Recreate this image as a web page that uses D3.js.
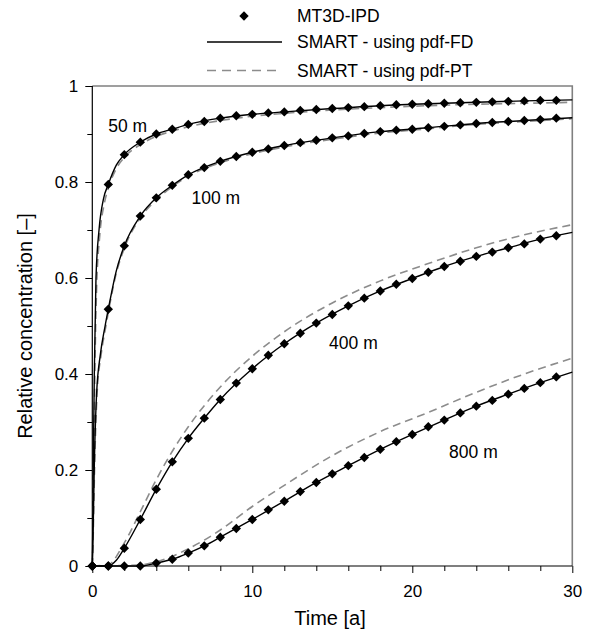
<!DOCTYPE html>
<html>
<head>
<meta charset="utf-8">
<script src="https://cdn.jsdelivr.net/npm/d3@7"></script>
<style>
  html, body { margin: 0; padding: 0; background: #fff; }
  svg { display: block; font-family: Arial, "Liberation Sans", Helvetica, sans-serif; }
</style>
</head>
<body>
<svg id="chart" width="590" height="632"></svg>
<script>
// Simulated breakthrough: MT3D-IPD samples (yearly) and SMART curves at four distances
const sampleTimes = d3.range(0, 30); // 0 … 29 a

const ipd50 = [0, 0.795, 0.857, 0.883, 0.900, 0.910, 0.920, 0.926, 0.933, 0.938,
  0.941, 0.944, 0.946, 0.949, 0.951, 0.953, 0.955, 0.957, 0.959, 0.961,
  0.962, 0.963, 0.964, 0.965, 0.966, 0.967, 0.968, 0.969, 0.970, 0.970];
const ipd100 = [0, 0.535, 0.667, 0.729, 0.767, 0.793, 0.815, 0.830, 0.843, 0.853,
  0.862, 0.869, 0.876, 0.882, 0.887, 0.892, 0.896, 0.901, 0.905, 0.908,
  0.910, 0.913, 0.916, 0.919, 0.922, 0.924, 0.926, 0.928, 0.930, 0.933];
const ipd400 = [0, 0, 0.037, 0.097, 0.160, 0.217, 0.266, 0.308, 0.347, 0.381,
  0.411, 0.439, 0.463, 0.485, 0.506, 0.524, 0.542, 0.558, 0.573, 0.587,
  0.599, 0.612, 0.624, 0.635, 0.645, 0.654, 0.663, 0.671, 0.681, 0.688];
const ipd800 = [0, 0, 0, 0, 0.006, 0.014, 0.027, 0.042, 0.060, 0.078,
  0.097, 0.117, 0.135, 0.155, 0.174, 0.192, 0.209, 0.226, 0.243, 0.259,
  0.274, 0.290, 0.304, 0.319, 0.333, 0.345, 0.358, 0.370, 0.382, 0.394];

// SMART – pdf-FD  ([time, concentration])
const fd50 = [[0,0],[0.03,0.08],[0.06,0.2],[0.125,0.4],[0.23,0.6],[0.42,0.7],[0.7,0.765],
  [1,0.795],[1.5,0.835],[2,0.857],[3,0.883],[4,0.9],[5,0.91],[6,0.92],[8,0.933],[10,0.941],
  [12,0.946],[15,0.953],[18,0.959],[21,0.963],[24,0.966],[27,0.969],[30,0.971]];
const fd100 = [[0,0],[0.05,0.07],[0.12,0.2],[0.27,0.36],[0.5,0.44],[0.8,0.5],[1,0.535],
  [1.5,0.615],[2,0.667],[3,0.729],[4,0.767],[5,0.793],[6,0.815],[8,0.843],[10,0.862],
  [12,0.876],[15,0.892],[18,0.905],[21,0.913],[24,0.922],[27,0.928],[30,0.934]];
const fd400 = [[0,0],[1,0],[1.5,0.012],[2,0.037],[3,0.097],[4,0.16],[5,0.217],[6,0.266],
  [7,0.308],[8,0.347],[10,0.411],[12,0.463],[14,0.506],[16,0.542],[18,0.573],[20,0.599],
  [22,0.624],[24,0.645],[26,0.663],[28,0.681],[30,0.695]];
const fd800 = [[0,0],[3,0],[4,0.006],[5,0.014],[6,0.027],[7,0.042],[8,0.06],[10,0.097],
  [12,0.135],[14,0.174],[16,0.209],[18,0.243],[20,0.274],[22,0.304],[24,0.333],[26,0.358],
  [28,0.382],[30,0.404]];

// SMART – pdf-PT
const pt50 = [[0,0],[0.04,0.06],[0.08,0.18],[0.15,0.38],[0.27,0.58],[0.47,0.69],[0.75,0.755],
  [1,0.787],[1.5,0.828],[2,0.851],[3,0.878],[4,0.895],[5,0.906],[6,0.915],[8,0.928],[10,0.937],
  [12,0.943],[15,0.95],[18,0.955],[21,0.959],[24,0.962],[27,0.964],[30,0.966]];
const pt100 = [[0,0],[0.06,0.07],[0.14,0.2],[0.3,0.36],[0.55,0.44],[0.85,0.5],[1,0.528],
  [1.5,0.61],[2,0.662],[3,0.725],[4,0.763],[5,0.79],[6,0.812],[8,0.84],[10,0.859],
  [12,0.873],[15,0.889],[18,0.902],[21,0.911],[24,0.92],[27,0.926],[30,0.932]];
const pt400 = [[0,0],[1,0.003],[2,0.048],[3,0.113],[4,0.18],[5,0.239],[6,0.29],[8,0.373],
  [10,0.437],[12,0.488],[15,0.548],[18,0.594],[21,0.63],[24,0.663],[27,0.69],[30,0.711]];
const pt800 = [[0,0],[3,0.002],[4,0.009],[5,0.02],[6,0.036],[7,0.054],[8,0.075],[10,0.124],
  [12,0.168],[15,0.23],[18,0.28],[21,0.32],[24,0.362],[27,0.4],[30,0.433]];

const curveLabels = ["50 m", "100 m", "400 m", "800 m"];
const labelPos = [[1.0, 0.905], [6.2, 0.755], [14.8, 0.452], [22.3, 0.225]]; // [time, conc] anchor (left, baseline)

const legendNames = ["MT3D-IPD", "SMART - using pdf-FD", "SMART - using pdf-PT"];
const yMajor = [0, 0.2, 0.4, 0.6, 0.8, 1];
const yMinor = [0.1, 0.3, 0.5, 0.7, 0.9];
const xMajor = [0, 10, 20, 30];
const xMinor = [2, 4, 6, 8, 12, 14, 16, 18, 22, 24, 26, 28];

const svg = d3.select("#chart");
const FONT = 17, LABEL_FONT = 17.5, TITLE_FONT = 20;
const pLeft = 92.3, pRight = 572.3, pTop = 86, pBottom = 566;

const x = d3.scaleLinear().domain([0, 30]).range([pLeft, pRight]);
const y = d3.scaleLinear().domain([0, 1]).range([pBottom, pTop]);

// frame: top and right in grey
svg.append("path")
  .attr("d", `M${pLeft},${pTop}H${pRight}V${pBottom}`)
  .attr("fill", "none").attr("stroke", "#808080").attr("stroke-width", 1.6);

// axes
const fmt = d => String(+d.toFixed(1));
const yAx = svg.append("g").attr("transform", `translate(${pLeft},0)`)
  .call(d3.axisLeft(y).tickValues(yMajor).tickSize(7).tickPadding(7).tickFormat(fmt));
svg.append("g").attr("transform", `translate(${pLeft},0)`)
  .call(d3.axisLeft(y).tickValues(yMinor).tickSize(5).tickFormat(""))
  .select(".domain").remove();
const xAx = svg.append("g").attr("transform", `translate(0,${pBottom})`)
  .call(d3.axisBottom(x).tickValues(xMajor).tickSize(7).tickPadding(12).tickFormat(d3.format("d")));
svg.append("g").attr("transform", `translate(0,${pBottom})`)
  .call(d3.axisBottom(x).tickValues(xMinor).tickSize(5).tickFormat(""))
  .select(".domain").remove();

svg.selectAll(".tick text").attr("font-size", FONT).attr("fill", "#000")
  .attr("font-family", "Arial, 'Liberation Sans', sans-serif");
svg.selectAll(".tick line").attr("stroke", "#000");
svg.selectAll(".domain").attr("stroke", "#000").attr("stroke-width", 1.2);
// domain without outer end ticks
yAx.select(".domain").attr("d", `M0,${pBottom}V${pTop}`);
xAx.select(".domain").attr("d", `M${pLeft},0H${pRight}`);

// axis titles
svg.append("text").attr("x", 330).attr("y", 625).attr("text-anchor", "middle")
  .attr("font-size", TITLE_FONT).text("Time [a]");
svg.append("text").attr("transform", `translate(31.5,${(pTop + pBottom) / 2}) rotate(-90)`)
  .attr("text-anchor", "middle").attr("font-size", TITLE_FONT).text("Relative concentration [–]");

// lines
const line = d3.line().x(d => x(d[0])).y(d => y(d[1])).curve(d3.curveMonotoneX);
const gPlot = svg.append("g");
[pt50, pt100, pt400, pt800].forEach(s => {
  gPlot.append("path").attr("d", line(s)).attr("fill", "none")
    .attr("stroke", "#8c8c8c").attr("stroke-width", 1.6).attr("stroke-dasharray", "8,5");
});
[fd50, fd100, fd400, fd800].forEach(s => {
  gPlot.append("path").attr("d", line(s)).attr("fill", "none")
    .attr("stroke", "#000").attr("stroke-width", 1.4);
});

// diamond markers
const diamond = d3.symbol().type(d3.symbolSquare).size(44);
[ipd50, ipd100, ipd400, ipd800].forEach(vals => {
  gPlot.selectAll(null).data(vals.map((v, i) => [sampleTimes[i], v])).join("path")
    .attr("d", diamond)
    .attr("transform", d => `translate(${x(d[0])},${y(d[1])}) rotate(45)`)
    .attr("fill", "#000");
});

// curve labels
curveLabels.forEach((t, i) => {
  svg.append("text").attr("x", x(labelPos[i][0])).attr("y", y(labelPos[i][1]))
    .attr("font-size", LABEL_FONT).text(t);
});

// legend
const lg = svg.append("g");
const lgX0 = 207, lgX1 = 282, lgText = 297;
const lgY = [16, 42, 70.5];
lg.append("path").attr("d", diamond)
  .attr("transform", `translate(${(lgX0 + lgX1) / 2 - 0.5},${lgY[0]}) rotate(45)`).attr("fill", "#000");
lg.append("line").attr("x1", lgX0).attr("x2", lgX1).attr("y1", lgY[1]).attr("y2", lgY[1])
  .attr("stroke", "#000").attr("stroke-width", 1.4);
lg.append("line").attr("x1", lgX0).attr("x2", lgX1).attr("y1", lgY[2]).attr("y2", lgY[2])
  .attr("stroke", "#8c8c8c").attr("stroke-width", 1.4).attr("stroke-dasharray", "9,6");
legendNames.forEach((n, i) => {
  lg.append("text").attr("x", lgText).attr("y", lgY[i]).attr("dy", "0.36em")
    .attr("font-size", LABEL_FONT).text(n);
});
</script>
</body>
</html>
